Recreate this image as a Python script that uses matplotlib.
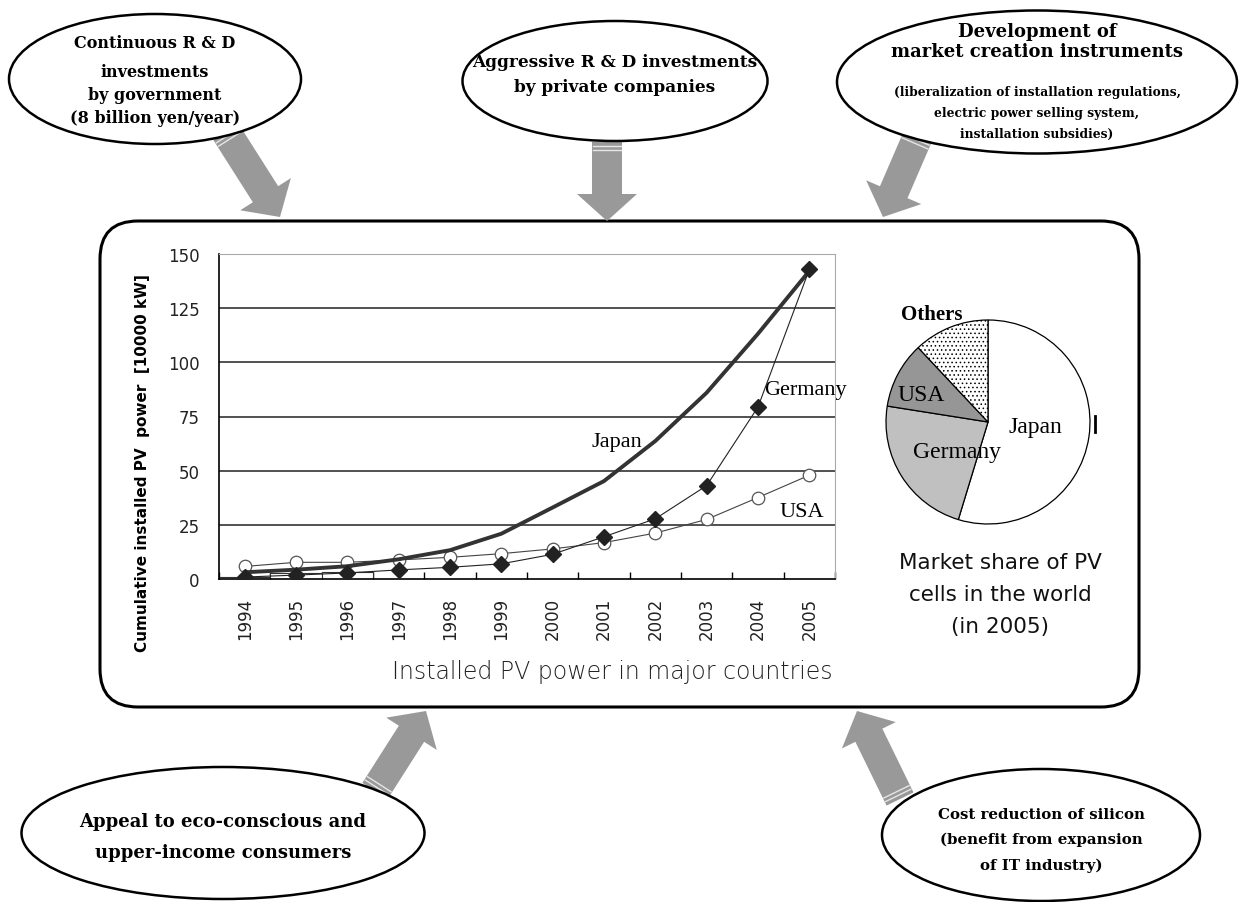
import numpy as np
import matplotlib.pyplot as plt
from matplotlib.patches import Ellipse, FancyBboxPatch, FancyArrow

plt.rcParams['hatch.linewidth'] = 0.6
plt.rcParams['hatch.color'] = '#555555'

W, H = 1251, 903

years = ['1994', '1995', '1996', '1997', '1998', '1999',
         '2000', '2001', '2002', '2003', '2004', '2005']
japan = [3.1, 4.3, 5.9, 9.1, 13.3, 20.9, 33.0, 45.2, 63.7, 86.0, 113.2, 142.2]
germany = [0.9, 1.8, 2.8, 4.2, 5.4, 7.0, 11.4, 19.5, 27.8, 43.1, 79.4, 142.9]
usa = [5.8, 7.7, 7.7, 8.8, 10.0, 11.7, 13.9, 16.8, 21.2, 27.5, 37.6, 47.9]
small_bars = [0.9, 3.0, 3.4]

share_labels = ['Japan', 'Germany', 'USA', 'Others']
share_values = [54.7, 22.8, 10.5, 12.0]

bubbles = [
    ((155, 80), 292, 130, ['Continuous R & D', 'investments', 'by government',
                           '(8 billion yen/year)'], [43, 72, 95, 118], [11.5] * 4),
    ((615, 82), 305, 120, ['Aggressive R & D investments', 'by private companies'],
     [62, 87], [12.2, 12.2]),
    ((1037, 83), 400, 143, ['Development of', 'market creation instruments',
                            '(liberalization of installation regulations,',
                            'electric power selling system,',
                            'installation subsidies)'],
     [32, 52, 92, 113, 134], [13, 13, 8.8, 8.8, 8.8]),
    ((223, 834), 403, 132, ['Appeal to eco-conscious and', 'upper-income consumers'],
     [822, 853], [13, 13]),
    ((1041, 836), 318, 132, ['Cost reduction of silicon', '(benefit from expansion',
                             'of IT industry)'], [815, 840, 866], [10.8] * 3),
]

# (tail, tip) in pixels, y measured from the top
arrows = [((226, 133), (280, 218)),
          ((607, 143), (607, 222)),
          ((918, 137), (883, 218)),
          ((375, 792), (426, 712)),
          ((900, 800), (857, 712))]

fig = plt.figure(figsize=(W / 100, H / 100), dpi=100)
bg = fig.add_axes([0, 0, 1, 1])
bg.set_xlim(0, W)
bg.set_ylim(0, H)
bg.set_axis_off()

# rounded frame around the charts
frame = FancyBboxPatch((100, H - 708), 1039, 486,
                       boxstyle='round,pad=0,rounding_size=38',
                       fc='white', ec='black', lw=2.2, zorder=1)
bg.add_patch(frame)

for (x0, y0), (x1, y1) in arrows:
    dx, dy = x1 - x0, -(y1 - y0)
    bg.add_patch(FancyArrow(x0, H - y0, dx, dy, width=30, head_width=60,
                            head_length=27, length_includes_head=True,
                            fc='#999999', ec='none', zorder=2))
    # light bands near the tail of each arrow
    L = np.hypot(dx, dy)
    ux, uy = dx / L, dy / L
    px, py = -uy, ux
    for off in (4, 8):
        cx, cy = x0 + ux * off, H - y0 + uy * off
        bg.plot([cx - px * 14, cx + px * 14], [cy - py * 14, cy + py * 14],
                color='#e6e6e6', lw=1.0, zorder=3)

for (cx, cy), w, h, lines, ys, sizes in bubbles:
    bg.add_patch(Ellipse((cx, H - cy), w, h, fc='white', ec='black',
                         lw=1.8, zorder=4))
    for txt, ty, fs in zip(lines, ys, sizes):
        bg.text(cx, H - ty, txt, ha='center', va='center', fontsize=fs,
                family='DejaVu Serif', weight='bold', zorder=5)

# short mark right of the pie
bg.plot([1095, 1095], [H - 417, H - 433], color='black', lw=2, zorder=3)

# line chart
ax_l, ax_r, ax_t, ax_b = 219, 835, 255, 580
ax = fig.add_axes([ax_l / W, (H - ax_b) / H, (ax_r - ax_l) / W, (ax_b - ax_t) / H])
ax.patch.set_alpha(0)
x = np.arange(len(years))
ax.bar(x[:len(small_bars)], small_bars, width=1.0, color='white',
       edgecolor='#333333', lw=0.8, zorder=2)
ax.plot(x, japan, color='#333333', lw=2.8, zorder=4)
ax.plot(x, germany, color='#222222', lw=0.8, marker='D', ms=8,
        mfc='#222222', mec='#222222', zorder=5)
ax.plot(x, usa, color='#444444', lw=0.8, marker='o', ms=9,
        mfc='white', mec='#555555', mew=0.9, zorder=3)
ax.set_xlim(-0.5, len(years) - 0.5)
ax.set_ylim(0, 150)
ax.set_yticks(range(0, 151, 25))
for v in range(25, 126, 25):
    ax.axhline(v, color='#222222', lw=1.1, zorder=1)
ax.axhline(150, color='#aaaaaa', lw=1.2, zorder=1)
ax.set_xticks(x)
ax.set_xticklabels(years, rotation=90, fontsize=12, color='#222222')
ax.set_xticks(np.arange(-0.5, len(years)), minor=True)
ax.tick_params(axis='x', which='major', length=0, pad=13)
ax.tick_params(axis='x', which='minor', length=5, direction='in', width=1)
ax.tick_params(axis='y', length=0, labelsize=12, labelcolor='#222222', pad=14)
for s in ('top', 'right'):
    ax.spines[s].set_color('#aaaaaa')
for s in ('left', 'bottom'):
    ax.spines[s].set_color('black')
    ax.spines[s].set_linewidth(1.2)

ax.text(7.26, 63.6, 'Japan', family='Liberation Serif', fontsize=16,
        ha='center', va='center')
ax.text(10.12, 87.5, 'Germany', family='Liberation Serif', fontsize=16,
        ha='left', va='center', clip_on=False)
ax.text(10.85, 31, 'USA', family='Liberation Serif', fontsize=16,
        ha='center', va='center')

fig.text(143 / W, 1 - 463 / H, 'Cumulative installed PV  power  [10000 kW]',
         rotation=90, ha='center', va='center', fontsize=11, weight='bold')
fig.text(612 / W, 1 - 672 / H, 'Installed PV power in major countries',
         ha='center', va='center', fontsize=17, weight='light', color='#222222')

# market share pie
pc, pr = (988, 423), 102
pax = fig.add_axes([(pc[0] - pr) / W, (H - pc[1] - pr) / H, 2 * pr / W, 2 * pr / H])
wedges, _ = pax.pie(share_values, startangle=90, counterclock=False,
                    colors=['white', '#c0c0c0', '#969696', 'white'],
                    wedgeprops=dict(ec='black', lw=0.9), radius=1)
wedges[3].set_hatch('....')
pax.set_xlim(-1, 1)
pax.set_ylim(-1, 1)
pax.text(0.46, -0.04, 'Japan', family='Liberation Serif', fontsize=17,
         ha='center', va='center')
pax.text(-0.30, -0.29, 'Germany', family='Liberation Serif', fontsize=17,
         ha='center', va='center')
pax.text(-0.66, 0.27, 'USA', family='Liberation Serif', fontsize=17,
         ha='center', va='center')
pax.text(-0.55, 1.06, 'Others', family='Liberation Serif', fontsize=15,
         weight='bold', ha='center', va='center')

for i, line in enumerate(['Market share of PV', 'cells in the world', '(in 2005)']):
    fig.text(1000 / W, 1 - (563 + 32 * i) / H, line, ha='center', va='center',
             fontsize=15.5, color='#111111')

fig.savefig('out.png', dpi=100)
